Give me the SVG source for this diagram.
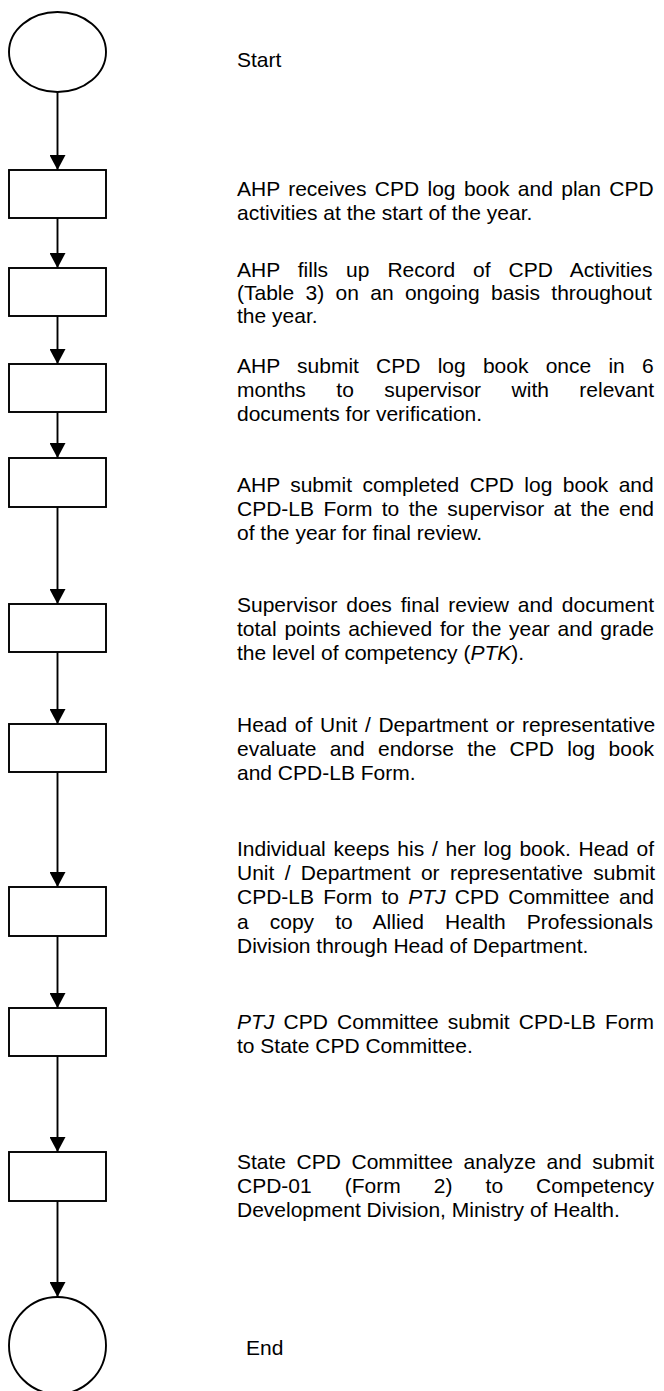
<svg xmlns="http://www.w3.org/2000/svg" width="664" height="1391" viewBox="0 0 664 1391">
<style>
.shape{fill:#fff;stroke:#000;stroke-width:1.9}
.conn{fill:none;stroke:#000;stroke-width:1.9}
text{font-family:"Liberation Sans",Arial,sans-serif;font-size:21px;fill:#000}
.it{font-style:italic}
</style>
<defs>
<marker id="arr" markerUnits="userSpaceOnUse" markerWidth="15" markerHeight="16" viewBox="0 0 15 16" refX="15" refY="8" orient="auto">
<path d="M0,0 L15,8 L0,16 z" fill="#000"/>
</marker>
</defs>
<rect width="664" height="1391" fill="#fff"/>
<g id="connectors">
<line class="conn" x1="57.5" y1="92" x2="57.5" y2="170" marker-end="url(#arr)"/>
<line class="conn" x1="57.5" y1="218" x2="57.5" y2="268" marker-end="url(#arr)"/>
<line class="conn" x1="57.5" y1="316" x2="57.5" y2="364" marker-end="url(#arr)"/>
<line class="conn" x1="57.5" y1="412" x2="57.5" y2="458" marker-end="url(#arr)"/>
<line class="conn" x1="57.5" y1="507" x2="57.5" y2="604" marker-end="url(#arr)"/>
<line class="conn" x1="57.5" y1="652" x2="57.5" y2="724" marker-end="url(#arr)"/>
<line class="conn" x1="57.5" y1="772" x2="57.5" y2="887" marker-end="url(#arr)"/>
<line class="conn" x1="57.5" y1="936" x2="57.5" y2="1008" marker-end="url(#arr)"/>
<line class="conn" x1="57.5" y1="1056" x2="57.5" y2="1152" marker-end="url(#arr)"/>
<line class="conn" x1="57.5" y1="1201" x2="57.5" y2="1297" marker-end="url(#arr)"/>
</g>
<g id="start"><ellipse class="shape" cx="57.5" cy="52" rx="48.5" ry="40"/><text x="237" y="67">Start</text></g>
<g id="step1"><rect class="shape" x="9" y="170" width="97" height="48"/>
<text x="237" y="196" word-spacing="2.55">AHP receives CPD log book and plan CPD</text>
<text x="237" y="219.5">activities at the start of the year.</text></g>
<g id="step2"><rect class="shape" x="9" y="268" width="97" height="48"/>
<text x="237" y="276.5" word-spacing="12.13">AHP fills up Record of CPD Activities</text>
<text x="237" y="300" word-spacing="5.49">(Table 3) on an ongoing basis throughout</text>
<text x="237" y="323">the year.</text></g>
<g id="step3"><rect class="shape" x="9" y="364" width="97" height="48"/>
<text x="237" y="372.5" word-spacing="11.39">AHP submit CPD log book once in 6</text>
<text x="237" y="396.5" word-spacing="24.6">months to supervisor with relevant</text>
<text x="237" y="420.5">documents for verification.</text></g>
<g id="step4"><rect class="shape" x="9" y="458" width="97" height="49"/>
<text x="237" y="492" word-spacing="4.53">AHP submit completed CPD log book and</text>
<text x="237" y="516" word-spacing="3.55">CPD-LB Form to the supervisor at the end</text>
<text x="237" y="540">of the year for final review.</text></g>
<g id="step5"><rect class="shape" x="9" y="604" width="97" height="48"/>
<text x="237" y="612" word-spacing="3.1">Supervisor does final review and document</text>
<text x="237" y="636" word-spacing="1.87">total points achieved for the year and grade</text>
<text x="237" y="660">the level of competency (<tspan class="it">PTK</tspan>).</text></g>
<g id="step6"><rect class="shape" x="9" y="724" width="97" height="48"/>
<text x="237" y="732" word-spacing="1.8">Head of Unit / Department or representative</text>
<text x="237" y="756" word-spacing="7.44">evaluate and endorse the CPD log book</text>
<text x="237" y="780">and CPD-LB Form.</text></g>
<g id="step7"><rect class="shape" x="9" y="887" width="97" height="49"/>
<text x="237" y="856" word-spacing="1.93">Individual keeps his / her log book. Head of</text>
<text x="237" y="880" word-spacing="4.5">Unit / Department or representative submit</text>
<text x="237" y="904" word-spacing="3.375">CPD-LB Form to <tspan class="it">PTJ</tspan> CPD Committee and</text>
<text x="237" y="928.5" word-spacing="15.24">a copy to Allied Health Professionals</text>
<text x="237" y="953">Division through Head of Department.</text></g>
<g id="step8"><rect class="shape" x="9" y="1008" width="97" height="48"/>
<text x="237" y="1028.5" word-spacing="3.36"><tspan class="it">PTJ</tspan> CPD Committee submit CPD-LB Form</text>
<text x="237" y="1052.5">to State CPD Committee.</text></g>
<g id="step9"><rect class="shape" x="9" y="1152" width="97" height="49"/>
<text x="237" y="1169" word-spacing="4.74">State CPD Committee analyze and submit</text>
<text x="237" y="1193" word-spacing="27.23">CPD-01 (Form 2) to Competency</text>
<text x="237" y="1216.5">Development Division, Ministry of Health.</text></g>
<g id="end"><ellipse class="shape" cx="57.5" cy="1345.5" rx="48.5" ry="48.5"/><text x="246" y="1355">End</text></g>
</svg>
